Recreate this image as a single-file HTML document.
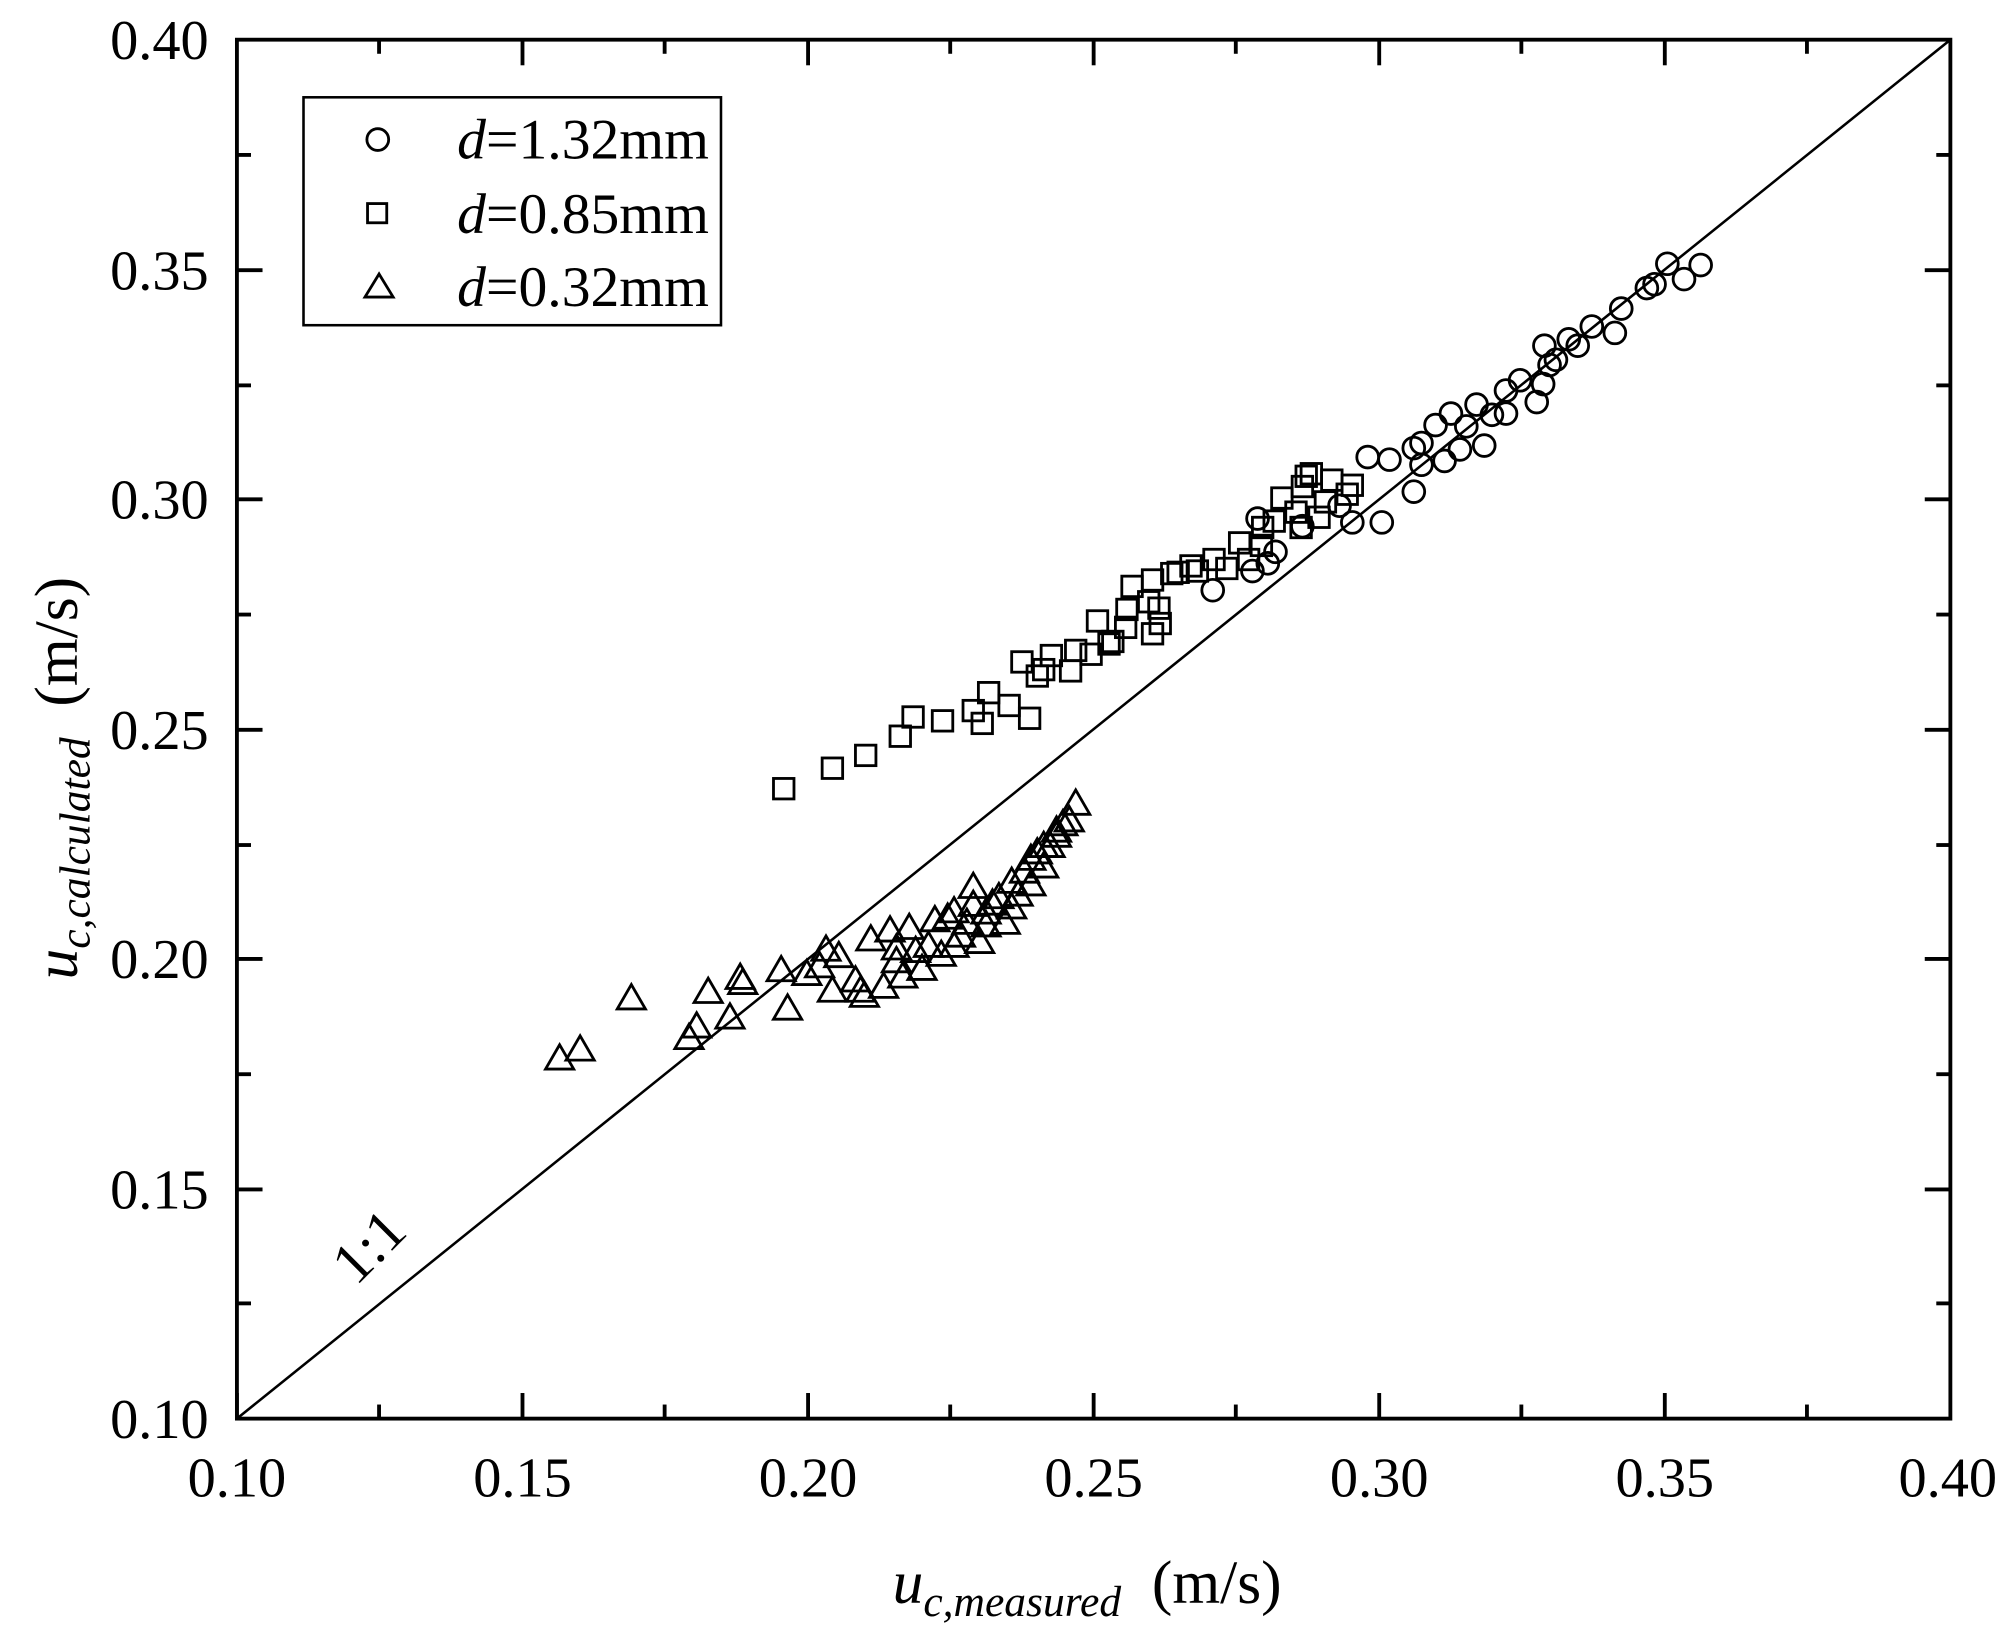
<!DOCTYPE html>
<html><head><meta charset="utf-8"><style>
html,body{margin:0;padding:0;background:#fff}
svg{display:block}
text{font-family:"Liberation Serif",serif;fill:#000}
</style></head><body>
<svg width="2008" height="1635" viewBox="0 0 1568 1277" preserveAspectRatio="none" xmlns="http://www.w3.org/2000/svg">
<rect width="1568" height="1277" fill="#fff"/>
<line x1="185" y1="1108" x2="1523" y2="31" stroke="#000" stroke-width="2"/>
<g stroke="#000" stroke-width="3">
<line x1="185" y1="1108" x2="185" y2="1088"/><line x1="408" y1="1108" x2="408" y2="1088"/><line x1="631" y1="1108" x2="631" y2="1088"/><line x1="854" y1="1108" x2="854" y2="1088"/><line x1="1077" y1="1108" x2="1077" y2="1088"/><line x1="1300" y1="1108" x2="1300" y2="1088"/>
<line x1="296" y1="1108" x2="296" y2="1097"/><line x1="519" y1="1108" x2="519" y2="1097"/><line x1="742" y1="1108" x2="742" y2="1097"/><line x1="965" y1="1108" x2="965" y2="1097"/><line x1="1188" y1="1108" x2="1188" y2="1097"/><line x1="1411" y1="1108" x2="1411" y2="1097"/>
<line x1="296" y1="31" x2="296" y2="42"/><line x1="519" y1="31" x2="519" y2="42"/><line x1="742" y1="31" x2="742" y2="42"/><line x1="965" y1="31" x2="965" y2="42"/><line x1="1188" y1="31" x2="1188" y2="42"/><line x1="1411" y1="31" x2="1411" y2="42"/>
<line x1="408" y1="31" x2="408" y2="51"/><line x1="631" y1="31" x2="631" y2="51"/><line x1="854" y1="31" x2="854" y2="51"/><line x1="1077" y1="31" x2="1077" y2="51"/><line x1="1300" y1="31" x2="1300" y2="51"/>
<line x1="185" y1="929" x2="205" y2="929"/><line x1="185" y1="749" x2="205" y2="749"/><line x1="185" y1="570" x2="205" y2="570"/><line x1="185" y1="390" x2="205" y2="390"/><line x1="185" y1="211" x2="205" y2="211"/>
<line x1="185" y1="1018" x2="196" y2="1018"/><line x1="185" y1="839" x2="196" y2="839"/><line x1="185" y1="660" x2="196" y2="660"/><line x1="185" y1="480" x2="196" y2="480"/><line x1="185" y1="301" x2="196" y2="301"/><line x1="185" y1="121" x2="196" y2="121"/>
<line x1="1523" y1="929" x2="1503" y2="929"/><line x1="1523" y1="749" x2="1503" y2="749"/><line x1="1523" y1="570" x2="1503" y2="570"/><line x1="1523" y1="390" x2="1503" y2="390"/><line x1="1523" y1="211" x2="1503" y2="211"/>
<line x1="1523" y1="1018" x2="1512" y2="1018"/><line x1="1523" y1="839" x2="1512" y2="839"/><line x1="1523" y1="660" x2="1512" y2="660"/><line x1="1523" y1="480" x2="1512" y2="480"/><line x1="1523" y1="301" x2="1512" y2="301"/><line x1="1523" y1="121" x2="1512" y2="121"/>
</g>
<rect x="185" y="31" width="1338" height="1077" fill="none" stroke="#000" stroke-width="3"/>
<g font-size="44" text-anchor="middle">
<text x="185" y="1169">0.10</text><text x="408" y="1169">0.15</text><text x="631" y="1169">0.20</text><text x="854" y="1169">0.25</text><text x="1077" y="1169">0.30</text><text x="1300" y="1169">0.35</text><text x="1521" y="1169">0.40</text>
</g>
<g font-size="44" text-anchor="end">
<text x="163" y="1123">0.10</text><text x="163" y="944">0.15</text><text x="163" y="764">0.20</text><text x="163" y="585">0.25</text><text x="163" y="405">0.30</text><text x="163" y="226">0.35</text><text x="163" y="46">0.40</text>
</g>
<text x="697" y="1252" font-size="48"><tspan font-style="italic">u</tspan><tspan font-style="italic" font-size="34" dy="10">c,measured</tspan><tspan dy="-10" xml:space="preserve">  (m/s)</tspan></text>
<text transform="translate(60,765) rotate(-90)" font-size="48"><tspan font-style="italic">u</tspan><tspan font-style="italic" font-size="34" dy="10">c,calculated</tspan><tspan dy="-10" xml:space="preserve">  (m/s)</tspan></text>
<text transform="translate(278,1005) rotate(-45)" font-size="46">1:1</text>
<rect x="237" y="76" width="326" height="178" fill="#fff" stroke="#000" stroke-width="2"/>
<circle cx="295" cy="109" r="8.5" fill="none" stroke="#000" stroke-width="2.2"/>
<rect x="287" y="159" width="15" height="15" fill="none" stroke="#000" stroke-width="2.2"/>
<polygon points="296,214 285,232 307,232" fill="none" stroke="#000" stroke-width="2.2"/>
<g font-size="45"><text x="357" y="124"><tspan font-style="italic">d</tspan>=1.32mm</text><text x="357" y="182"><tspan font-style="italic">d</tspan>=0.85mm</text><text x="357" y="239"><tspan font-style="italic">d</tspan>=0.32mm</text></g>
<g fill="none" stroke="#000" stroke-width="2.2" id="pts"></g>
</svg>
<script>
var g=document.getElementById('pts'),ns='http://www.w3.org/2000/svg';
var C=[[982,405],[947,461],[978,446],[996,431],[1056,408],[1068,357],[1079,408],[1085,359],[1104,384],[1104,350],[1110,346],[1110,363],[1121,332],[1128,360],[1133,323],[1140,351],[1145,333],[1153,316],[1159,348],[1165,324],[1176,323],[1176,305],[1187,297],[1200,314],[1205,300],[1206,270],[1210,285],[1215,281],[1225,265],[1232,270],[1243,255],[1261,260],[1266,241],[1286,225],[1292,222],[1302,206],[1315,218],[1328,207],[990,440],[1017,411],[1046,395]];
var S=[[612,616],[650,600],[676,590],[703,575],[713,560],[736,563],[760,555],[767,565],[772,541],[788,551],[804,561],[798,517],[815,523],[821,512],[836,524],[840,508],[852,511],[857,485],[869,501],[879,490],[884,458],[897,470],[900,453],[905,475],[906,487],[915,448],[920,447],[930,442],[935,446],[948,437],[958,444],[968,424],[975,437],[985,426],[995,407],[1001,389],[1012,400],[1016,412],[1020,372],[1024,370],[1030,404],[1035,392],[1040,375],[1052,386],[1056,379],[900,495],[866,503],[810,528],[880,476],[986,412],[1017,380]];
var T=[[437,826],[453,819],[493,779],[538,810],[544,801],[553,774],[570,794],[578,763],[580,767],[610,757],[615,787],[640,754],[645,741],[650,773],[655,746],[668,765],[672,773],[675,777],[680,733],[690,770],[695,726],[700,750],[705,762],[710,724],[715,742],[720,756],[725,738],[730,718],[735,745],[740,716],[745,711],[750,730],[755,720],[760,692],[765,735],[770,712],[775,705],[780,700],[785,720],[790,688],[795,698],[800,680],[805,670],[810,665],[815,676],[820,660],[825,652],[830,643],[835,640],[840,627],[805,690],[790,708],[760,706],[745,738],[700,740],[630,760],[770,722],[815,660],[825,648]];
C.forEach(function(p){var e=document.createElementNS(ns,'circle');e.setAttribute('cx',p[0]);e.setAttribute('cy',p[1]);e.setAttribute('r',8.5);g.appendChild(e);});
S.forEach(function(p){var e=document.createElementNS(ns,'rect');e.setAttribute('x',p[0]-8);e.setAttribute('y',p[1]-8);e.setAttribute('width',16);e.setAttribute('height',16);g.appendChild(e);});
T.forEach(function(p){var e=document.createElementNS(ns,'polygon');e.setAttribute('points',(p[0])+','+(p[1]-10)+' '+(p[0]-11)+','+(p[1]+9)+' '+(p[0]+11)+','+(p[1]+9));g.appendChild(e);});
</script>
</body></html>
